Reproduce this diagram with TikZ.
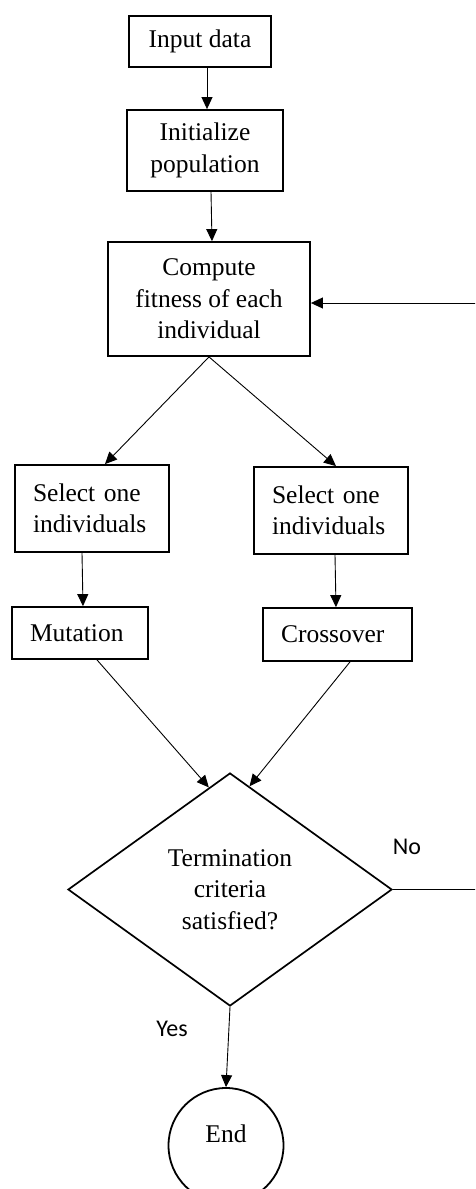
\documentclass[tikz,border=0pt]{standalone}
\usepackage{fontspec}
\setmainfont{Liberation Serif}
\newfontfamily\lblfont{Carlito}
\usetikzlibrary{arrows.meta,shapes.geometric,calc}
\begin{document}
\begin{tikzpicture}[x=1pt,y=-1pt,
  txt/.style={font=\fontsize{25.5}{31.5}\selectfont},
  box/.style={txt,draw,line width=1.8pt,inner sep=0pt,align=center},
  lbox/.style={txt,draw,line width=1.8pt,inner xsep=18pt,inner ysep=0pt,align=left},
  conn/.style={line width=0.9pt,-{Triangle[length=12pt,width=11pt]}},
  lbl/.style={font=\lblfont\fontsize{24}{28}\selectfont}]
\useasboundingbox (0,0) rectangle (475,1189);
\clip (0,0) rectangle (475,1189);
\fill[white] (0,0) rectangle (475,1189);

\node[box,minimum width=142,minimum height=51] (input) at (200,41.5) {Input data};
\node[box,minimum width=156,minimum height=81] (init) at (205,150.5) {Initialize\\population};
\node[box,minimum width=202,minimum height=114] (fit) at (209,299) {Compute\\fitness of each\\individual};
\node[lbox,text width=118pt,minimum height=87] (selL) at (92,508.5) {Select one\\individuals};
\node[lbox,text width=118pt,minimum height=87] (selR) at (331,510.5) {Select one\\individuals};
\node[lbox,text width=100pt,minimum height=52] (mut) at (80,633) {Mutation};
\node[lbox,text width=113pt,minimum height=53] (cross) at (337.5,634.5) {Crossover};
\node[txt,diamond,draw,line width=1.7pt,inner sep=0pt,aspect=1.39,
      minimum width=324,minimum height=233,align=center] (dia) at (230,889.5)
      {Termination\\criteria\\satisfied?};
\node[txt,circle,draw,line width=1.8pt,inner sep=0pt,minimum size=115,
      text height=17pt,text depth=23pt] (end) at (226,1145.5) {End};

\node[lbl] (no) at (407,847) {No};
\node[lbl] (yes) at (172,1029) {Yes};

\coordinate (rb) at (478,889.5);
\coordinate (rt) at (478,303);

\draw[conn] ([xshift=7pt]input.south) -- ([xshift=2pt]init.north);
\draw[conn] ([xshift=6pt]init.south) -- ([xshift=3pt]fit.north);
\draw[conn] (fit.south) -- ([xshift=13pt]selL.north);
\draw[conn] (fit.south) -- ([xshift=5pt]selR.north);
\draw[conn] ([xshift=-10pt]selL.south) -- ([xshift=3pt]mut.north);
\draw[conn] ([xshift=4pt]selR.south) -- ([xshift=-1.5pt]cross.north);
\draw[conn] ([xshift=17pt]mut.south) -- ($(dia.north)!0.13!(dia.west)$);
\draw[conn] ([xshift=12.5pt]cross.south) -- ($(dia.north)!0.12!(dia.east)$);
\draw[conn] (dia.south) -- (end.north);
\draw[conn] (dia.east) -- (rb) -- (rt) -- ([yshift=-4pt]fit.east);
\end{tikzpicture}
\end{document}
